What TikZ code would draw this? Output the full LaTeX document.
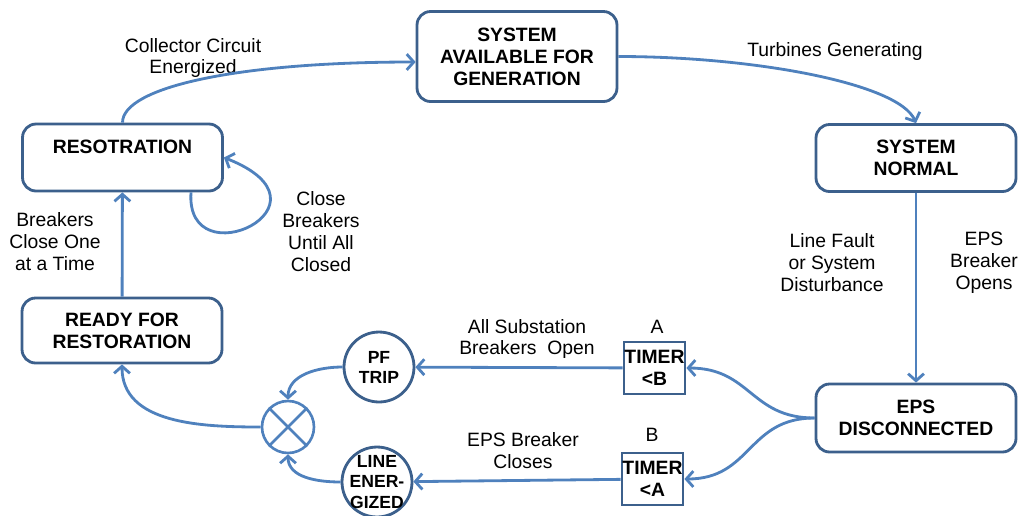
\documentclass[tikz,border=0pt]{standalone}
\usepackage{fontspec}
\setmainfont{Liberation Sans}
\usetikzlibrary{arrows.meta}
\definecolor{boxblue}{RGB}{60,96,140}
\definecolor{lineblue}{RGB}{79,129,189}

\begin{document}
\begin{tikzpicture}[x=0.02cm, y=0.02cm]
  \tikzstyle{state}=[draw=boxblue, line width=1.6pt, rounded corners=0.27cm, align=center, minimum width=4cm, minimum height=1.34cm, inner sep=2pt, font=\fontsize{11}{12.5}\selectfont\bfseries]
  \tikzstyle{timer}=[draw=boxblue, line width=1.6pt, minimum width=1.22cm, minimum height=1.04cm, inner sep=0pt, align=center, font=\fontsize{11}{12.5}\selectfont\bfseries]
  \tikzstyle{check}=[circle, draw=boxblue, line width=1.6pt, minimum size=1.4cm, inner sep=0pt, align=center, font=\fontsize{10}{11.4}\selectfont\bfseries]
  \tikzstyle{mixer}=[circle, draw=lineblue, line width=1.5pt, minimum size=1.04cm, inner sep=0pt]
  \tikzstyle{note}=[align=center, inner sep=1pt, font=\fontsize{11}{12.5}\selectfont]
  \tikzstyle{edge}=[lineblue, line width=1.6pt, -{Straight Barb[length=4pt,width=9pt]}]

  \useasboundingbox (0,0) rectangle (1018,-515);

  % states
  \node[state, minimum height=1.8cm] (avail) at (517,-56.5) {SYSTEM\\AVAILABLE FOR\\GENERATION};
  \node[state] (normal) at (916,-158) {SYSTEM\\NORMAL};
  \node[state] (rest) at (122.5,-157.5) {RESOTRATION\\\mbox{}};
  \node[state, minimum height=1.3cm] (ready) at (122,-330.5) {READY FOR\\RESTORATION};
  \node[state, minimum height=1.36cm] (eps) at (916,-418) {EPS\\DISCONNECTED};
  \node[timer] (timerB) at (654.5,-368) {TIMER\\<B};
  \node[timer] (timerA) at (652.5,-479) {TIMER\\<A};
  \node[check] (pf) at (379,-367) {PF\\TRIP};
  \node[check, inner sep=-5pt] (line) at (377,-482) {LINE\\ENER-\\GIZED};
  \node[mixer] (xor) at (288,-427) {};
  \draw[lineblue, line width=1.5pt] (xor.45) -- (xor.225) (xor.135) -- (xor.-45);

  % labels
  \node[note] (collector) at (193,-58) {Collector Circuit\\Energized};
  \node[note] (turbines) at (835,-51) {Turbines Generating};
  \node[note] (oneatime) at (55,-242) {Breakers\\Close One\\at a Time};
  \node[note] (untilall) at (321,-232) {Close\\Breakers\\Until All\\Closed};
  \node[note] (fault) at (832,-263) {Line Fault\\or System\\Disturbance};
  \node[note] (opens) at (984,-263) {EPS\\Breaker\\Opens};
  \node[note] (allopen) at (527,-339) {All Substation\\Breakers~ Open};
  \node[note] (closes) at (523,-451) {EPS Breaker\\Closes};
  \node[note] (a) at (657,-327) {A};
  \node[note] (b) at (652,-435) {B};

  % transitions
  \draw[edge] (rest.north) .. controls +(0,35) and +(-180,0) .. ([yshift=-1.1mm]avail.west);
  \draw[edge] (avail.east) .. controls +(134,0) and +(-17,40) .. (normal.north);
  \draw[edge] (normal) -- (eps);
  \draw[edge] (eps.west) to[out=180, in=0, looseness=1.2] (timerB.east);
  \draw[edge] (eps.west) to[out=180, in=0, looseness=1.2] (timerA.east);
  \draw[edge] (timerB) -- (pf);
  \draw[edge] (timerA) -- (line);
  \draw[edge] (pf.west) to[out=180, in=90] (xor.north);
  \draw[edge] (line.west) to[out=180, in=-90] (xor.south);
  \draw[edge] (xor.west) to[out=180, in=-90] (ready.south);
  \draw[edge] (ready) -- (rest);
  \draw[edge] (rest.-27) .. controls (185,-280) and (345,-205) .. (rest.east);
\end{tikzpicture}
\end{document}
